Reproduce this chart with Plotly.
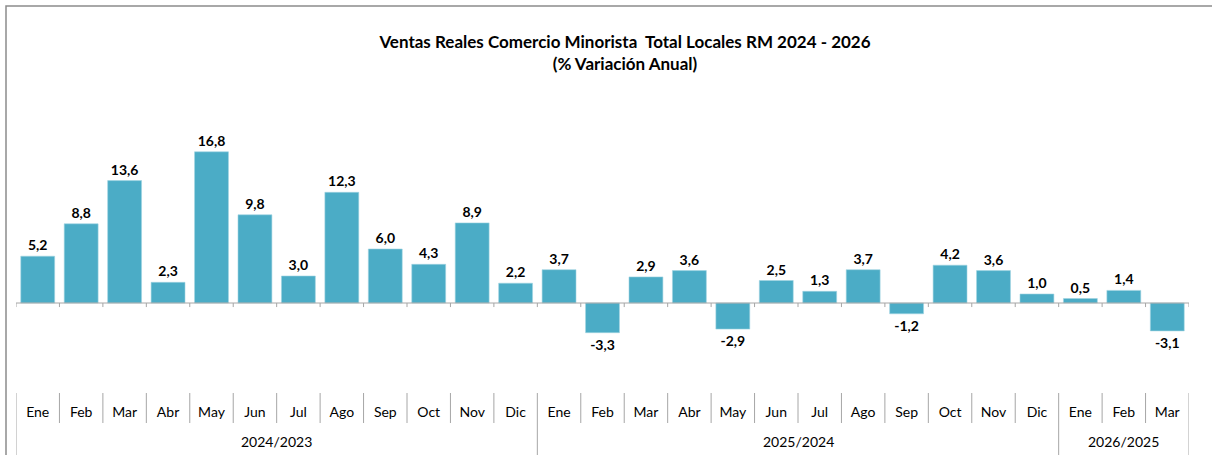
import plotly.graph_objects as go

months = ["Ene", "Feb", "Mar", "Abr", "May", "Jun", "Jul", "Ago", "Sep", "Oct", "Nov", "Dic",
          "Ene", "Feb", "Mar", "Abr", "May", "Jun", "Jul", "Ago", "Sep", "Oct", "Nov", "Dic",
          "Ene", "Feb", "Mar"]
groups = ["2024/2023", "2025/2024", "2026/2025"]
group_sizes = [12, 12, 3]
values = [5.2, 8.8, 13.6, 2.3, 16.8, 9.8, 3.0, 12.3, 6.0, 4.3, 8.9, 2.2,
          3.7, -3.3, 2.9, 3.6, -2.9, 2.5, 1.3, 3.7, -1.2, 4.2, 3.6, 1.0,
          0.5, 1.4, -3.1]

W, H = 1212, 455
ML, MR, MT, MB = 16, 23, 100, 65
PW = W - ML - MR
PH = H - MT - MB
plot_bottom = MT + PH


def py(pix):
    return (plot_bottom - pix) / PH


def px(pix):
    return (pix - ML) / PW


xs = list(range(len(values)))
font = "Lato, 'Open Sans', sans-serif"
grey = "#A6A6A6"

fig = go.Figure()
fig.add_trace(go.Bar(
    x=xs, y=values,
    marker=dict(color="#4BACC6", line=dict(color="#9FD3E0", width=0.6)),
    texttemplate="<b>%{y:.1f}</b>",
    textposition="outside",
    textfont=dict(family=font, size=14, color="#000000"),
    cliponaxis=False,
    hoverinfo="skip",
))

shapes = []
for i in range(len(values) + 1):
    b = i - 0.5
    shapes.append(dict(type="line", xref="x", yref="y", x0=b, x1=b, y0=0, y1=-0.45,
                       line=dict(color=grey, width=1)))
group_bounds = [0]
for s in group_sizes:
    group_bounds.append(group_bounds[-1] + s)
for i in range(len(values) + 1):
    b = i - 0.5
    y1 = py(458) if i in group_bounds else py(423)
    shapes.append(dict(type="line", xref="x", yref="paper", x0=b, x1=b, y0=py(393), y1=y1,
                       line=dict(color=grey, width=1)))
shapes.append(dict(type="rect", xref="paper", yref="paper", x0=px(6), x1=px(1300),
                   y0=py(520), y1=py(6), line=dict(color="#8C8C8C", width=1.5)))

annotations = []
for gi, g in enumerate(groups):
    center = (group_bounds[gi] + group_bounds[gi + 1] - 1) / 2
    annotations.append(dict(x=center, xref="x", y=py(441), yref="paper", text=g,
                            showarrow=False, font=dict(family=font, size=14, color="#000000"),
                            xanchor="center", yanchor="middle"))

fig.update_layout(
    width=W, height=H,
    margin=dict(l=ML, r=MR, t=MT, b=MB),
    paper_bgcolor="white", plot_bgcolor="white",
    separators=",.",
    showlegend=False,
    bargap=0.22,
    title=dict(text="<b>Ventas Reales Comercio Minorista \u00a0Total Locales RM 2024 - 2026<br>(% Variación Anual)</b>",
               x=625 / W, xanchor="center", xref="container",
               y=1 - 30 / H, yanchor="top",
               font=dict(family=font, size=17, color="#000000")),
    xaxis=dict(range=[-0.5, len(values) - 0.5], tickmode="array", tickvals=xs, ticktext=months,
               showgrid=False, zeroline=False, showline=False, ticks="",
               tickfont=dict(family=font, size=14, color="#000000"),
               ticklabelstandoff=12),
    yaxis=dict(range=[-(plot_bottom - 303) / 9.0, (303 - MT) / 9.0], visible=False,
               zeroline=True),
    shapes=shapes,
    annotations=annotations,
)
fig.update_layout(title=dict(y=1 - 48 / H))
fig.add_hline(y=0, line=dict(color=grey, width=1))

fig.write_html("out.html", config={"displayModeBar": False},
               post_script="document.body.style.margin='0';document.body.style.padding='0';")
